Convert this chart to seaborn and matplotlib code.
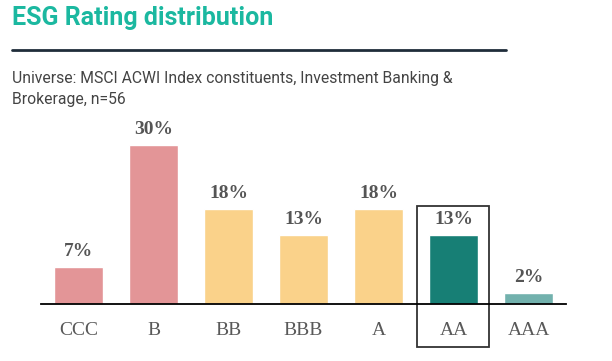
import matplotlib
matplotlib.use("Agg")
import matplotlib.pyplot as plt
import matplotlib.transforms as mtransforms
from matplotlib.patches import Rectangle
import seaborn as sns
import pandas as pd

# Chart data
ratings = ["CCC", "B", "BB", "BBB", "A", "AA", "AAA"]
shares = [7, 30, 18, 13, 18, 13, 2]
bar_colors = ["#E39597", "#E39597", "#FAD28A", "#FAD28A", "#FAD28A", "#177F75", "#72B1AD"]
highlight = "AA"

title = "ESG Rating distribution"
subtitle = "Universe: MSCI ACWI Index constituents, Investment Banking &\nBrokerage, n=56"

df = pd.DataFrame({"rating": ratings, "share": shares})

sns.set_style("white")
fig = plt.figure(figsize=(6.12, 3.61), dpi=100)
ax = fig.add_axes([41 / 612, 57 / 361, 525 / 612, 174 / 361])

sns.barplot(data=df, x="rating", y="share", hue="rating", palette=bar_colors,
            legend=False, width=0.65, ax=ax, saturation=1)

ax.set_xlim(-0.5, len(ratings) - 0.5)
ax.set_ylim(0, 32.8)
ax.set_xlabel("")
ax.set_ylabel("")
ax.set_yticks([])
sns.despine(ax=ax, left=True, top=True, right=True)
ax.spines["bottom"].set_color("black")
ax.spines["bottom"].set_linewidth(1.3)
ax.tick_params(axis="x", length=0, pad=13)
for lbl in ax.get_xticklabels():
    lbl.set_fontfamily("Liberation Serif")
    lbl.set_fontsize(14)
    lbl.set_color("#595959")

for i, v in enumerate(shares):
    ax.annotate(f"{v}%", (i, v), xytext=(0, 5), textcoords="offset points",
                ha="center", va="bottom", fontfamily="Liberation Serif",
                fontweight="bold", fontsize=14, color="#555555")

# box around highlighted rating
hi = ratings.index(highlight)
trans = mtransforms.blended_transform_factory(ax.transData, ax.transAxes)
ax.add_patch(Rectangle((hi - 0.48, -0.247), 0.96, 0.81, transform=trans,
                       fill=False, edgecolor="#333333", linewidth=1.3, clip_on=False))

# header
fig.text(12 / 612, 1 - 18 / 361, title, fontfamily="Roboto", fontweight="bold",
         fontsize=18, color="#1BB8A0", va="center", ha="left")
fig.add_artist(plt.Line2D([12 / 612, 506 / 612], [1 - 50 / 361, 1 - 50 / 361],
                          color="#1F2D3A", linewidth=2))
fig.text(12 / 612, 1 - 71 / 361, subtitle, fontfamily="Roboto", fontsize=11.3,
         color="#444444", va="top", ha="left", linespacing=1.5)

fig.savefig("out.png", dpi=100)
